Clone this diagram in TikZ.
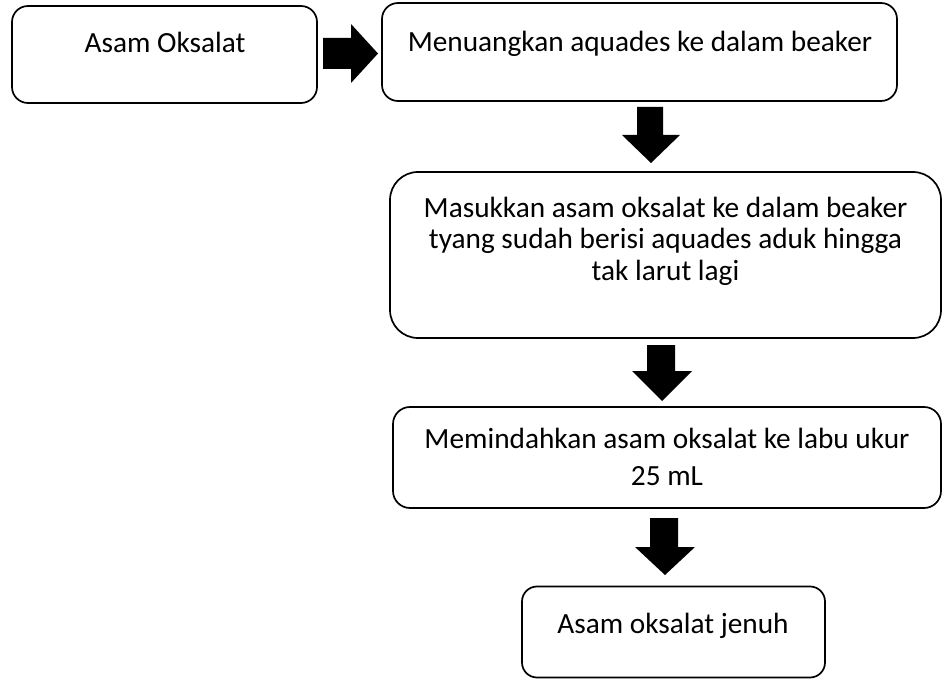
\documentclass[tikz,border=0pt]{standalone}
\usepackage{fontspec}
\setmainfont{Carlito}
\begin{document}
\begin{tikzpicture}[x=1pt,y=-1pt,
  box/.style={draw, line width=1.7pt, rounded corners=#1, inner sep=0pt},
  txt/.style={font=\fontsize{29.3}{31.5}\selectfont, align=center, inner sep=0pt, anchor=base},
  blockarrow/.style={fill=black, draw=none}]
\useasboundingbox (0,0) rectangle (943,679);
% boxes
\node[box=16pt, minimum width=305pt, minimum height=97pt] (b1) at (164.5,54.5) {};
\node[box=16pt, minimum width=515pt, minimum height=98pt] (b2) at (639.5,52) {};
\node[box=28pt, minimum width=551pt, minimum height=166pt] (b3) at (665.5,255) {};
\node[box=17pt, minimum width=548pt, minimum height=101pt] (b4) at (667,457.5) {};
\node[box=15pt, minimum width=303pt, minimum height=91pt] (b5) at (673.5,632) {};
% texts (base = baseline of the last line)
\node[txt] (t1) at (165,53) {Asam Oksalat};
\node[txt] (t2) at (640,52) {Menuangkan aquades ke dalam beaker};
\node[txt] (t3) at (665.5,280) {Masukkan asam oksalat ke dalam beaker\\tyang sudah berisi aquades aduk hingga\\tak larut lagi};
\node[txt] (t4) at (667,485) {Memindahkan asam oksalat ke labu ukur\\[5pt]25 mL};
\node[txt] (t5) at (673,633) {Asam oksalat jenuh};
% block arrows
\fill[blockarrow] (323,38) -- (351,38) -- (351,24) -- (378,53.5) -- (351,83) -- (351,69) -- (323,69) -- cycle;
\fill[blockarrow] (637,107) -- (663,107) -- (663,135) -- (680,135) -- (651,163) -- (622,135) -- (637,135) -- cycle;
\fill[blockarrow] (647,345) -- (675,345) -- (675,371) -- (692,371) -- (662,401) -- (632,371) -- (647,371) -- cycle;
\fill[blockarrow] (650,518) -- (678,518) -- (678,547) -- (695,547) -- (665,575) -- (635,547) -- (650,547) -- cycle;
\end{tikzpicture}
\end{document}
